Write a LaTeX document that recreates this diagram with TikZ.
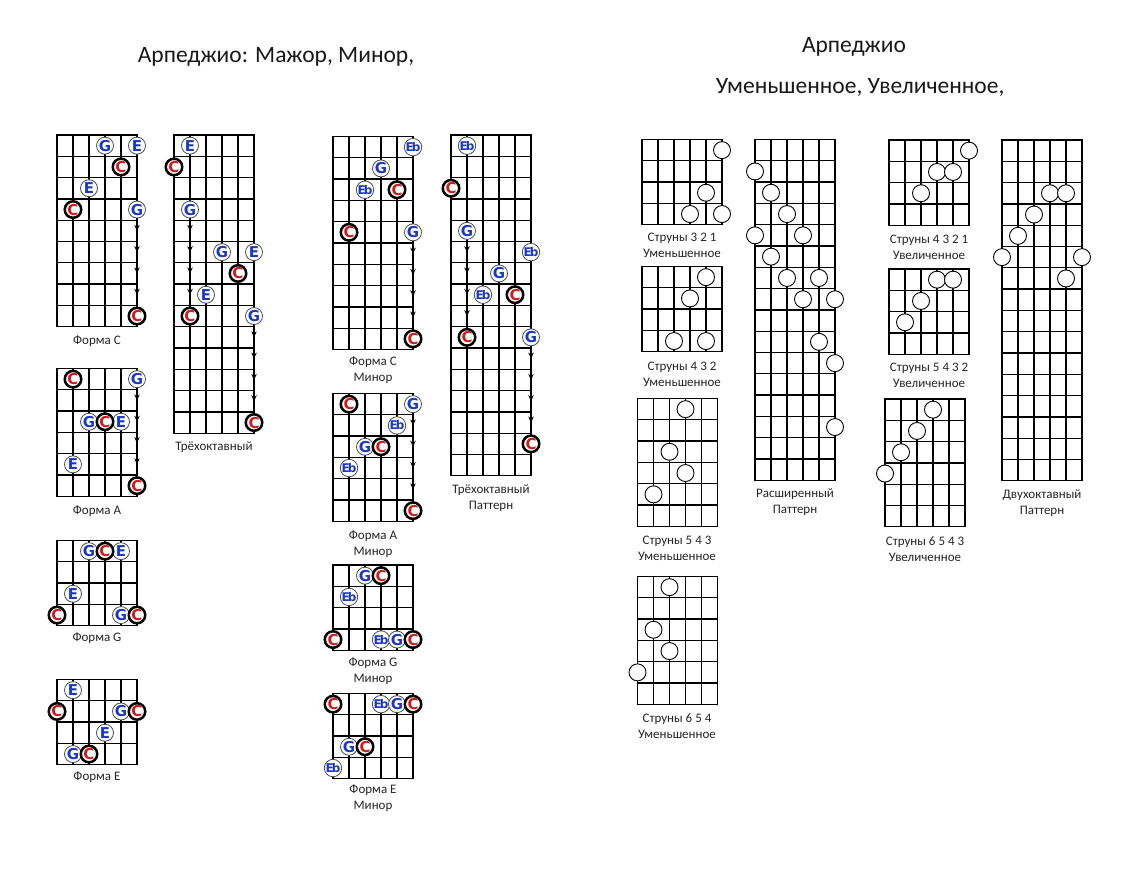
\documentclass[tikz,border=0pt]{standalone}
\usepackage{fontspec}
\setmainfont{Carlito}
\newfontfamily\nfontfam{DejaVu Sans}
\usetikzlibrary{arrows.meta}
\definecolor{nblue}{RGB}{28,58,190}
\definecolor{nred}{RGB}{205,30,30}
\newcommand\nfont{\nfontfam\bfseries\fontsize{15}{15}\selectfont}
\newcommand\Eb{{\fontsize{12}{12}\selectfont E\kern-2pt b}}
\newcommand\fgrid[1]{%
  \foreach \i in {0,...,5} \draw[gl] (\i,0) -- (\i,#1);
  \foreach \j in {0,...,#1} \draw[gl] (0,\j) -- (5,\j);}
\newcommand\downchain[6]{%
  \draw[ar] (#1) -- (#2); \draw[ar] (#2) -- (#3); \draw[ar] (#3) -- (#4);
  \draw[ar] (#4) -- (#5); \draw[ln] (#5) -- (#6);}
\tikzset{
  gl/.style={line width=1.35pt, line cap=rect},
  bn/.style={circle, draw=black!70, line width=0.8pt, fill=white, minimum size=17pt, inner sep=0pt, text=nblue, font=\nfont},
  rn/.style={circle, draw=black, line width=2.5pt, fill=white, minimum size=16.5pt, inner sep=0pt, text=nred, font=\nfont},
  on/.style={circle, draw=black, line width=0.9pt, fill=white, minimum size=17pt, inner sep=0pt},
  lbl/.style={font=\fontsize{13}{16}\selectfont, align=center, text=black!85, inner sep=0pt},
  ttl/.style={font=\fontsize{23.5}{26}\selectfont, text=black!90, inner sep=0pt},
  ar/.style={line width=0.9pt, -{Stealth[length=6pt,width=5.5pt]}},
  ln/.style={line width=0.9pt},
}
\begin{document}
\begin{tikzpicture}[x=1pt,y=-1pt]
\useasboundingbox[fill=white] (0,0) rectangle (1134,891);

% titles
\node[ttl] (t1) at (276,57) {Арпеджио: Мажор, Минор,};
\node[ttl] (t2) at (854,47) {Арпеджио};
\node[ttl] (t3) at (860,87) {Уменьшенное, Увеличенное,};

% ---- a: Форма C
\begin{scope}[shift={(57,135)},x=16pt,y=-21.3pt]
\fgrid{9}
\node[bn] (aG1) at (3,0.5) {G};
\node[bn] (aE1) at (5,0.5) {E};
\node[rn] (aC1) at (4,1.5) {C};
\node[bn] (aE2) at (2,2.5) {E};
\node[rn] (aC2) at (1,3.5) {C};
\node[bn] (aG2) at (5,3.5) {G};
\node[rn] (aC3) at (5,8.5) {C};
\coordinate (aA1) at (5,4.5); \coordinate (aA2) at (5,5.5);
\coordinate (aA3) at (5,6.5); \coordinate (aA4) at (5,7.5);
\end{scope}
\downchain{aG2}{aA1}{aA2}{aA3}{aA4}{aC3}
\node[lbl] (aL) at (97,341) {Форма C};

% ---- b: Трёхоктавный
\begin{scope}[shift={(174,135)},x=16pt,y=-21.3pt]
\fgrid{14}
\node[bn] (bE1) at (1,0.5) {E};
\node[rn] (bC1) at (0,1.5) {C};
\node[bn] (bG1) at (1,3.5) {G};
\node[bn] (bG2) at (3,5.5) {G};
\node[bn] (bE2) at (5,5.5) {E};
\node[rn] (bC2) at (4,6.5) {C};
\node[bn] (bE3) at (2,7.5) {E};
\node[rn] (bC3) at (1,8.5) {C};
\node[bn] (bG3) at (5,8.5) {G};
\node[rn] (bC4) at (5,13.5) {C};
\coordinate (bA1) at (1,4.5); \coordinate (bA2) at (1,5.5);
\coordinate (bA3) at (1,6.5); \coordinate (bA4) at (1,7.5);
\coordinate (bB1) at (5,9.5); \coordinate (bB2) at (5,10.5);
\coordinate (bB3) at (5,11.5); \coordinate (bB4) at (5,12.5);
\end{scope}
\downchain{bG1}{bA1}{bA2}{bA3}{bA4}{bC3}
\downchain{bG3}{bB1}{bB2}{bB3}{bB4}{bC4}
\node[lbl] (bL) at (214,447) {Трёхоктавный};

% ---- c: Форма A
\begin{scope}[shift={(57,368.5)},x=16pt,y=-21.3pt]
\fgrid{6}
\node[rn] (cC1) at (1,0.5) {C};
\node[bn] (cG1) at (5,0.5) {G};
\node[bn] (cG2) at (2,2.5) {G};
\node[bn] (cE1) at (4,2.5) {E};
\node[rn] (cC2) at (3,2.5) {C};
\node[bn] (cE2) at (1,4.5) {E};
\node[rn] (cC3) at (5,5.5) {C};
\coordinate (cA1) at (5,1.5); \coordinate (cA2) at (5,2.5);
\coordinate (cA3) at (5,3.5); \coordinate (cA4) at (5,4.5);
\end{scope}
\downchain{cG1}{cA1}{cA2}{cA3}{cA4}{cC3}
\node[lbl] (cL) at (97,511) {Форма A};

% ---- d: Форма G
\begin{scope}[shift={(57,540.5)},x=16pt,y=-21.3pt]
\fgrid{4}
\node[bn] (dG1) at (2,0.5) {G};
\node[bn] (dE1) at (4,0.5) {E};
\node[rn] (dC1) at (3,0.5) {C};
\node[bn] (dE2) at (1,2.5) {E};
\node[rn] (dC2) at (0,3.5) {C};
\node[bn] (dG2) at (4,3.5) {G};
\node[rn] (dC3) at (5,3.5) {C};
\end{scope}
\node[lbl] (dL) at (97,638) {Форма G};

% ---- e: Форма E
\begin{scope}[shift={(57,679.5)},x=16pt,y=-21.3pt]
\fgrid{4}
\node[bn] (eE1) at (1,0.5) {E};
\node[rn] (eC1) at (0,1.5) {C};
\node[bn] (eG1) at (4,1.5) {G};
\node[rn] (eC2) at (5,1.5) {C};
\node[bn] (eE2) at (3,2.5) {E};
\node[bn] (eG2) at (1,3.5) {G};
\node[rn] (eC3) at (2,3.5) {C};
\end{scope}
\node[lbl] (eL) at (97,777) {Форма E};

% ---- f: Форма C Минор
\begin{scope}[shift={(333,136.5)},x=16pt,y=-21.3pt]
\fgrid{10}
\node[bn] (fE1) at (5,0.5) {\Eb};
\node[bn] (fG1) at (3,1.5) {G};
\node[bn] (fE2) at (2,2.5) {\Eb};
\node[rn] (fC1) at (4,2.5) {C};
\node[rn] (fC2) at (1,4.5) {C};
\node[bn] (fG2) at (5,4.5) {G};
\node[rn] (fC3) at (5,9.5) {C};
\coordinate (fA1) at (5,5.5); \coordinate (fA2) at (5,6.5);
\coordinate (fA3) at (5,7.5); \coordinate (fA4) at (5,8.5);
\end{scope}
\downchain{fG2}{fA1}{fA2}{fA3}{fA4}{fC3}
\node[lbl] (fL) at (373,370) {Форма C\\Минор};

% ---- g: Трёхоктавный Паттерн
\begin{scope}[shift={(451,135)},x=16pt,y=-21.3pt]
\fgrid{16}
\node[bn] (gE1) at (1,0.5) {\Eb};
\node[rn] (gC1) at (0,2.5) {C};
\node[bn] (gG1) at (1,4.5) {G};
\node[bn] (gE2) at (5,5.5) {\Eb};
\node[bn] (gG2) at (3,6.5) {G};
\node[bn] (gE3) at (2,7.5) {\Eb};
\node[rn] (gC2) at (4,7.5) {C};
\node[rn] (gC3) at (1,9.5) {C};
\node[bn] (gG3) at (5,9.5) {G};
\node[rn] (gC4) at (5,14.5) {C};
\coordinate (gA1) at (1,5.5); \coordinate (gA2) at (1,6.5);
\coordinate (gA3) at (1,7.5); \coordinate (gA4) at (1,8.5);
\coordinate (gB1) at (5,10.5); \coordinate (gB2) at (5,11.5);
\coordinate (gB3) at (5,12.5); \coordinate (gB4) at (5,13.5);
\end{scope}
\downchain{gG1}{gA1}{gA2}{gA3}{gA4}{gC3}
\downchain{gG3}{gB1}{gB2}{gB3}{gB4}{gC4}
\node[lbl] (gL) at (491,498) {Трёхоктавный\\Паттерн};

% ---- h: Форма A Минор
\begin{scope}[shift={(333,393.5)},x=16pt,y=-21.3pt]
\fgrid{6}
\node[rn] (hC1) at (1,0.5) {C};
\node[bn] (hG1) at (5,0.5) {G};
\node[bn] (hE1) at (4,1.5) {\Eb};
\node[bn] (hG2) at (2,2.5) {G};
\node[rn] (hC2) at (3,2.5) {C};
\node[bn] (hE2) at (1,3.5) {\Eb};
\node[rn] (hC3) at (5,5.5) {C};
\coordinate (hA1) at (5,1.5); \coordinate (hA2) at (5,2.5);
\coordinate (hA3) at (5,3.5); \coordinate (hA4) at (5,4.5);
\end{scope}
\downchain{hG1}{hA1}{hA2}{hA3}{hA4}{hC3}
\node[lbl] (hL) at (373,544) {Форма A\\Минор};

% ---- i: Форма G Минор
\begin{scope}[shift={(333,565)},x=16pt,y=-21.3pt]
\fgrid{4}
\node[bn] (iG1) at (2,0.5) {G};
\node[rn] (iC1) at (3,0.5) {C};
\node[bn] (iE1) at (1,1.5) {\Eb};
\node[rn] (iC2) at (0,3.5) {C};
\node[bn] (iE2) at (3,3.5) {\Eb};
\node[bn] (iG2) at (4,3.5) {G};
\node[rn] (iC3) at (5,3.5) {C};
\end{scope}
\node[lbl] (iL) at (373,671) {Форма G\\Минор};

% ---- j: Форма E Минор
\begin{scope}[shift={(333,693.5)},x=16pt,y=-21.3pt]
\fgrid{4}
\node[rn] (jC1) at (0,0.5) {C};
\node[bn] (jE1) at (3,0.5) {\Eb};
\node[bn] (jG1) at (4,0.5) {G};
\node[rn] (jC2) at (5,0.5) {C};
\node[bn] (jG2) at (1,2.5) {G};
\node[rn] (jC3) at (2,2.5) {C};
\node[bn] (jE2) at (0,3.5) {\Eb};
\end{scope}
\node[lbl] (jL) at (373,798.5) {Форма E\\Минор};

% ---- k: Струны 3 2 1
\begin{scope}[shift={(642,139.5)},x=16pt,y=-21.3pt]
\fgrid{4}
\node[on] (k1) at (5,0.5) {};
\node[on] (k2) at (4,2.5) {};
\node[on] (k3) at (3,3.5) {};
\node[on] (k4) at (5,3.5) {};
\end{scope}
\node[lbl] (kL) at (682,245) {Струны 3 2 1\\Уменьшенное};

% ---- l: Струны 4 3 2
\begin{scope}[shift={(642,266.5)},x=16pt,y=-21.3pt]
\fgrid{4}
\node[on] (l1) at (4,0.5) {};
\node[on] (l2) at (3,1.5) {};
\node[on] (l3) at (2,3.5) {};
\node[on] (l4) at (4,3.5) {};
\end{scope}
\node[lbl] (lL) at (682,374) {Струны 4 3 2\\Уменьшенное};

% ---- m: Струны 5 4 3
\begin{scope}[shift={(637.5,398.5)},x=16pt,y=-21.3pt]
\fgrid{6}
\node[on] (m1) at (3,0.5) {};
\node[on] (m2) at (2,2.5) {};
\node[on] (m3) at (3,3.5) {};
\node[on] (m4) at (1,4.5) {};
\end{scope}
\node[lbl] (mL) at (677,548) {Струны 5 4 3\\Уменьшенное};

% ---- n: Струны 6 5 4
\begin{scope}[shift={(637.5,576.5)},x=16pt,y=-21.3pt]
\fgrid{6}
\node[on] (n1) at (2,0.5) {};
\node[on] (n2) at (1,2.5) {};
\node[on] (n3) at (2,3.5) {};
\node[on] (n4) at (0,4.5) {};
\end{scope}
\node[lbl] (nL) at (677,726) {Струны 6 5 4\\Уменьшенное};

% ---- o: Расширенный Паттерн
\begin{scope}[shift={(755,139.5)},x=16pt,y=-21.3pt]
\fgrid{16}
\node[on] (o1) at (0,1.5) {};
\node[on] (o2) at (1,2.5) {};
\node[on] (o3) at (2,3.5) {};
\node[on] (o4) at (0,4.5) {};
\node[on] (o5) at (3,4.5) {};
\node[on] (o6) at (1,5.5) {};
\node[on] (o7) at (2,6.5) {};
\node[on] (o8) at (4,6.5) {};
\node[on] (o9) at (3,7.5) {};
\node[on] (o10) at (5,7.5) {};
\node[on] (o11) at (4,9.5) {};
\node[on] (o12) at (5,10.5) {};
\node[on] (o13) at (5,13.5) {};
\end{scope}
\node[lbl] (oL) at (795,502) {Расширенный\\Паттерн};

% ---- p: Струны 4 3 2 1 Увеличенное
\begin{scope}[shift={(889,140)},x=16pt,y=-21.3pt]
\fgrid{4}
\node[on] (p1) at (5,0.5) {};
\node[on] (p2) at (3,1.5) {};
\node[on] (p3) at (4,1.5) {};
\node[on] (p4) at (2,2.5) {};
\end{scope}
\node[lbl] (pL) at (929,247.5) {Струны 4 3 2 1\\Увеличенное};

% ---- q: Струны 5 4 3 2 Увеличенное
\begin{scope}[shift={(889,269)},x=16pt,y=-21.3pt]
\fgrid{4}
\node[on] (q1) at (3,0.5) {};
\node[on] (q2) at (4,0.5) {};
\node[on] (q3) at (2,1.5) {};
\node[on] (q4) at (1,2.5) {};
\end{scope}
\node[lbl] (qL) at (929,375) {Струны 5 4 3 2\\Увеличенное};

% ---- r: Струны 6 5 4 3 Увеличенное
\begin{scope}[shift={(885,399)},x=16pt,y=-21.3pt]
\fgrid{6}
\node[on] (r1) at (3,0.5) {};
\node[on] (r2) at (2,1.5) {};
\node[on] (r3) at (1,2.5) {};
\node[on] (r4) at (0,3.5) {};
\end{scope}
\node[lbl] (rL) at (925,549) {Струны 6 5 4 3\\Увеличенное};

% ---- s: Двухоктавный Паттерн
\begin{scope}[shift={(1002,140)},x=16pt,y=-21.3pt]
\fgrid{16}
\node[on] (s1) at (3,2.5) {};
\node[on] (s2) at (4,2.5) {};
\node[on] (s3) at (2,3.5) {};
\node[on] (s4) at (1,4.5) {};
\node[on] (s5) at (0,5.5) {};
\node[on] (s6) at (5,5.5) {};
\node[on] (s7) at (4,6.5) {};
\end{scope}
\node[lbl] (sL) at (1042,503) {Двухоктавный\\Паттерн};
\end{tikzpicture}
\end{document}
